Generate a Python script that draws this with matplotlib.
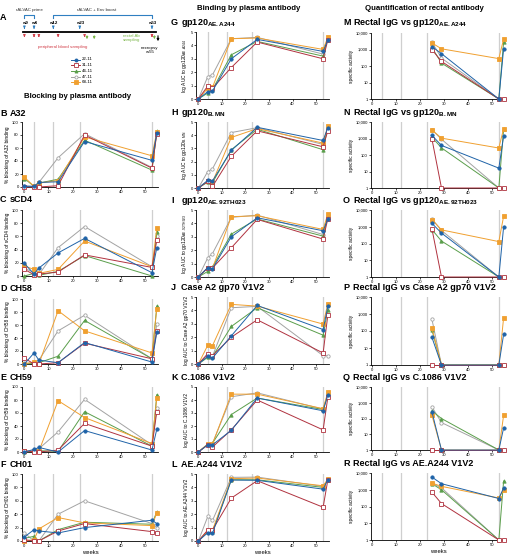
import matplotlib
matplotlib.use("Agg")
import matplotlib.pyplot as plt
from matplotlib.ticker import FixedLocator, NullLocator

plt.rcParams["font.family"] = ["Liberation Sans", "DejaVu Sans"]
plt.rcParams["mathtext.fontset"] = "custom"
plt.rcParams["mathtext.rm"] = "Liberation Sans"
plt.rcParams["mathtext.bf"] = "Liberation Sans:bold"

W, H = 508, 558

# ---- data ----
weeks = [0, 4, 6, 14, 25, 53, 55]
rectal_weeks = [25, 29, 53, 55]
boosts = [4, 12, 23, 53]

animals = ["22-11", "31-11", "46-11", "47-11", "68-11"]
colors = ["#1f63a8", "#b0323f", "#5a9e4b", "#a3a3a3", "#f0a030"]
markers = ["o", "s", "^", "o", "s"]
filled = [True, False, True, False, True]

# blocking (% blocking), rows = animals
a32 = [[1, 1, 7, 8, 70, 41, 83],
       [0, 0, 0, 2, 80, 29, 82],
       [13, 1, 6, 12, 72, 26, 86],
       [2, 1, 7, 45, 82, 30, 84],
       [15, 1, 6, 10, 77, 48, 85]]
scd4 = [[19, 3, 12, 35, 57, 5, 43],
        [10, 2, 3, 6, 32, 13, 54],
        [0, 4, 1, 7, 31, 0, 66],
        [12, 5, 2, 43, 75, 14, 60],
        [15, 10, 4, 10, 53, 14, 72]]
ch58 = [[0, 17, 6, 2, 33, 3, 49],
        [9, 0, 0, 2, 32, 8, 51],
        [0, 1, 2, 12, 67, 8, 89],
        [1, 2, 6, 51, 75, 8, 62],
        [0, 3, 0, 82, 51, 17, 85]]
ch59 = [[0, 4, 7, 0, 33, 3, 35],
        [2, 0, 0, 3, 44, 9, 62],
        [0, 1, 2, 1, 62, 9, 88],
        [1, 2, 5, 31, 81, 11, 68],
        [1, 1, 1, 79, 53, 13, 83]]
ch01 = [[6, 17, 15, 12, 20, 31, 26],
        [2, 0, 0, 15, 26, 14, 12],
        [4, 7, 0, 17, 28, 25, 44],
        [12, 0, 0, 40, 60, 26, 20],
        [0, 2, 18, 35, 27, 23, 42]]

# binding (log AUC)
g_a244 = [[0, 0.55, 0.6, 3.0, 4.45, 3.55, 4.4],
          [0, 0.97, 0.8, 2.35, 4.25, 3.0, 4.4],
          [0, 0.45, 0.7, 3.3, 4.3, 3.2, 4.55],
          [0, 1.67, 1.8, 4.5, 4.6, 3.35, 4.5],
          [0, 0.8, 0.87, 4.5, 4.55, 3.7, 4.6]]
g_bmn = [[0, 0.58, 0.53, 2.85, 4.6, 3.6, 4.57],
         [0, 0.5, 0.12, 2.4, 4.33, 3.12, 4.33],
         [0, 0.45, 0.4, 2.9, 4.45, 2.9, 4.65],
         [0, 1.25, 1.45, 4.2, 4.57, 3.3, 4.6],
         [0, 0.55, 0.45, 3.83, 4.5, 3.4, 4.7]]
g_92th = [[0, 0.7, 0.62, 3.0, 4.42, 3.45, 4.33],
          [0, 0.7, 0.67, 2.18, 4.3, 2.83, 4.33],
          [0, 0.42, 0.75, 3.2, 4.33, 3.05, 4.6],
          [0, 1.43, 1.75, 4.45, 4.62, 3.17, 4.55],
          [0, 0.68, 0.65, 4.5, 4.57, 3.55, 4.7]]
casea2 = [[0, 0.57, 0.45, 2.1, 4.37, 2.57, 4.3],
          [0, 0.77, 0.62, 2.0, 3.3, 0.82, 3.65],
          [0, 0.5, 0.55, 2.8, 4.2, 2.15, 4.05],
          [0, 0.7, 0.58, 4.2, 4.3, 0.62, 0.62],
          [0, 1.4, 1.37, 4.45, 4.32, 2.98, 4.5]]
c1086 = [[0, 0.55, 0.55, 1.67, 4.15, 3.17, 4.37],
         [0, 0.55, 0.38, 1.7, 4.0, 1.7, 4.2],
         [0, 0.6, 0.68, 2.88, 4.15, 3.27, 4.4],
         [0, 0.6, 0.65, 4.25, 4.55, 3.3, 4.45],
         [0, 0.6, 0.62, 4.45, 4.45, 3.33, 4.6]]
a244v = [[0, 0.62, 0.57, 4.55, 4.53, 3.87, 4.57],
         [0, 0.82, 0.82, 3.2, 4.5, 2.52, 4.55],
         [0, 0.68, 0.7, 4.57, 4.57, 4.0, 4.55],
         [0, 1.83, 1.53, 4.75, 4.77, 4.07, 4.6],
         [0, 0.78, 0.8, 4.65, 4.7, 4.12, 4.6]]

# rectal specific activity
r_a244 = [[1500, 560, 1, 1100],
          [1000, 190, 1, 1],
          [1300, 150, 1, 2800],
          [2800, 300, 1, 1],
          [2500, 1100, 280, 4300]]
r_bmn = [[1550, 380, 16, 1350],
         [930, 1, 1, 1],
         [1200, 270, 1, 3700],
         [3400, 900, 1, 1],
         [3300, 1050, 265, 4000]]
r_92th = [[1600, 420, 1, 980],
          [740, 1, 1, 1],
          [680, 140, 1, 1],
          [2950, 600, 1, 1],
          [2700, 650, 130, 4200]]
r_casea2 = [[42, 1, 1, 63],
            [1, 1, 1, 1],
            [115, 1, 1, 1],
            [490, 1, 1, 1],
            [145, 1, 1, 600]]
r_c1086 = [[260, 1, 1, 25],
           [1, 1, 1, 1],
           [300, 100, 1, 1],
           [550, 55, 1, 1],
           [160, 1, 1, 160]]
r_a244v = [[5700, 2300, 300, 1300],
           [720, 150, 1, 1],
           [2300, 1000, 1, 3300],
           [2500, 1300, 1, 1],
           [2500, 1600, 320, 1000]]

fig = plt.figure(figsize=(W / 100, H / 100), dpi=100)


def px_axes(x0, y0, x1, y1):
    return fig.add_axes([x0 / W, 1 - y1 / H, (x1 - x0) / W, (y1 - y0) / H])


def fig_text(x, y, s, **kw):
    fig.text(x / W, 1 - y / H, s, **kw)


def draw_series(ax, xs, data):
    for i in [3, 2, 4, 1, 0]:
        ax.plot(xs, data[i], color=colors[i], lw=0.7, marker=markers[i],
                ms=2.4, mew=0.6, mec=colors[i],
                mfc=colors[i] if filled[i] else "white",
                clip_on=False, zorder=3)


def style(ax, xlim, ylabel, xlabel=None):
    for b in boosts:
        ax.axvline(b, color="#cfcfcf", lw=0.9, zorder=0)
    ax.set_xlim(*xlim)
    ax.spines["top"].set_visible(False)
    ax.spines["right"].set_visible(False)
    ax.spines["left"].set_linewidth(0.6)
    ax.spines["bottom"].set_linewidth(0.6)
    ax.set_xticks([0, 10, 20, 30, 40, 50])
    ax.tick_params(labelsize=3.0, length=1.5, width=0.5, pad=0.8)
    ax.set_ylabel(ylabel, fontsize=3.5, labelpad=1.2)
    if xlabel:
        ax.set_xlabel(xlabel, fontsize=4.2, labelpad=1.5)


def panel_title(x, y, letter, name):
    # y is the text baseline in pixels
    fig_text(x, y, letter, fontsize=6.5, weight="bold", va="baseline")
    fig_text(x + 10, y, name, fontsize=6.5, weight="bold", va="baseline")


# ---- left column: blocking ----
left_x = (22, 158)
left_rows = [(122, 187), (210, 276), (299, 364), (387, 452), (474, 541)]
left_data = [a32, scd4, ch58, ch59, ch01]
left_names = ["A32", "sCD4", "CH58", "CH59", "CH01"]
left_letters = ["B", "C", "D", "E", "F"]
left_title_y = [116, 202, 291, 380, 467]
for k in range(5):
    ax = px_axes(left_x[0], left_rows[k][0], left_x[1], left_rows[k][1])
    draw_series(ax, weeks, left_data[k])
    ax.set_ylim(0, 100)
    ax.set_yticks([0, 20, 40, 60, 80, 100])
    style(ax, (-1, 55.5), "% blocking of " + left_names[k] + " binding",
          "weeks" if k == 4 else None)
    panel_title(0, left_title_y[k], left_letters[k], left_names[k])

# ---- middle column: binding ----
mid_x = (196, 329)
mid_rows = [(32, 99), (122, 188), (210, 277), (297, 364), (387, 452), (474, 541)]
mid_data = [g_a244, g_bmn, g_92th, casea2, c1086, a244v]
mid_titles = [r"gp120$_{\mathbf{AE.A244}}$", r"gp120$_{\mathbf{B.MN}}$",
              r"gp120$_{\mathbf{AE.92TH023}}$", "Case A2 gp70 V1V2",
              "C.1086 V1V2", "AE.A244 V1V2"]
mid_ylabels = [r"log AUC to gp120$_{\mathrm{AE.A244}}$",
               r"log AUC to gp120$_{\mathrm{B.MN}}$",
               r"log AUC to gp120$_{\mathrm{AE.92TH023}}$",
               "log AUC to Case A2 gp70 V1V2",
               "log AUC to C.1086 V1V2", "log AUC to AE.A244 V1V2"]
mid_letters = ["G", "H", "I", "J", "K", "L"]
mid_title_y = [25, 115, 203, 290, 380, 467]
for k in range(6):
    ax = px_axes(mid_x[0], mid_rows[k][0], mid_x[1], mid_rows[k][1])
    draw_series(ax, weeks, mid_data[k])
    ax.set_ylim(0, 5)
    ax.set_yticks([0, 1, 2, 3, 4, 5])
    style(ax, (-1, 55.5), mid_ylabels[k], "weeks" if k == 5 else None)
    panel_title(171, mid_title_y[k], mid_letters[k], mid_titles[k])

# ---- right column: rectal ----
right_x = (371, 506)
right_rows = [(33, 99), (122, 188), (210, 277), (297, 365), (387, 450), (473, 540)]
right_data = [r_a244, r_bmn, r_92th, r_casea2, r_c1086, r_a244v]
right_titles = [r"Rectal IgG vs gp120$_{\mathbf{AE.A244}}$",
                r"Rectal IgG vs gp120$_{\mathbf{B.MN}}$",
                r"Rectal IgG vs gp120$_{\mathbf{AE.92TH023}}$",
                "Rectal IgG vs Case A2 gp70 V1V2",
                "Rectal IgG vs C.1086 V1V2",
                "Rectal IgG vs AE.A244 V1V2"]
right_letters = ["M", "N", "O", "P", "Q", "R"]
right_title_y = [25, 115, 203, 290, 380, 466]
for k in range(6):
    ax = px_axes(right_x[0], right_rows[k][0], right_x[1], right_rows[k][1])
    draw_series(ax, rectal_weeks, right_data[k])
    ax.set_yscale("log")
    ax.set_ylim(1, 10000)
    ax.yaxis.set_major_locator(FixedLocator([1, 10, 100, 1000, 10000]))
    ax.yaxis.set_minor_locator(NullLocator())
    ax.set_yticklabels(["1", "10", "100", "1,000", "10,000"])
    style(ax, (-0.5, 56), "specific activity", "weeks" if k == 5 else None)
    panel_title(343, right_title_y[k], right_letters[k], right_titles[k])

# ---- section headers ----
fig_text(77, 97, "Blocking by plasma antibody", fontsize=5.6, weight="bold", ha="center", va="center")
fig_text(249, 8, "Binding by plasma antibody", fontsize=5.6, weight="bold", ha="center", va="center")
fig_text(424, 8, "Quantification of rectal antibody", fontsize=5.6, weight="bold", ha="center", va="center")

# ---- panel A: study timeline ----
axa = px_axes(22, 0, 158, 92)
axa.set_xlim(-1, 55.5)
axa.set_ylim(92, 0)
axa.axis("off")
fig_text(0, 18, "A", fontsize=6.5, weight="bold", va="center")
blue = "#2f7fc1"
red = "#d2404a"
green = "#7ab648"
tfs = 3.2
axa.text(2, 10, "rALVAC prime", fontsize=tfs, ha="center", va="center", color="#333333")
axa.plot([0, 0, 4, 4], [18, 14.5, 14.5, 18], color=blue, lw=0.8)
axa.text(30, 10, "rALVAC + Env boost", fontsize=tfs, ha="center", va="center", color="#333333")
axa.plot([12, 12, 53, 53], [18, 14.5, 14.5, 18], color=blue, lw=0.8)
for w in [0, 4, 12, 23, 53]:
    axa.text(w, 22.5, "w%d" % w, fontsize=tfs, ha="center", va="center", weight="bold")
    axa.annotate("", xy=(w, 31.5), xytext=(w, 25),
                 arrowprops=dict(arrowstyle="-|>", color=blue, lw=0.7, mutation_scale=3))
axa.plot([-0.5, 54.5], [32, 32], color="black", lw=1.3)
for w in [0, 4, 6, 14, 25, 53]:
    axa.annotate("", xy=(w, 40), xytext=(w, 33),
                 arrowprops=dict(arrowstyle="-|>", color=red, lw=0.7, mutation_scale=3))
for w in [26, 29, 54]:
    axa.annotate("", xy=(w, 42), xytext=(w, 33),
                 arrowprops=dict(arrowstyle="-|>", color=green, lw=0.7, mutation_scale=3))
axa.annotate("", xy=(55.5, 44), xytext=(55.5, 33),
             arrowprops=dict(arrowstyle="-|>", color="black", lw=0.8, mutation_scale=3))
axa.text(16, 47, "peripheral blood sampling", fontsize=tfs, ha="center", va="center", color=red)
axa.text(48, 38, "rectal Ab\nsampling", fontsize=tfs, ha="right", va="center", color=green,
         linespacing=1.0)
axa.text(52, 50, "necropsy\nw55", fontsize=tfs, ha="center", va="center", linespacing=1.0)
for i in range(5):
    y = 59.5 + i * 5.7
    axa.plot([19.5, 21.25, 23], [y, y, y], color=colors[i], lw=0.7, marker=markers[i],
             ms=2.2, mew=0.6, mec=colors[i], mfc=colors[i] if filled[i] else "white",
             markevery=[1], clip_on=False)
    axa.text(24, y, animals[i], fontsize=tfs, ha="left", va="center")

fig.savefig("out.png", dpi=100)
